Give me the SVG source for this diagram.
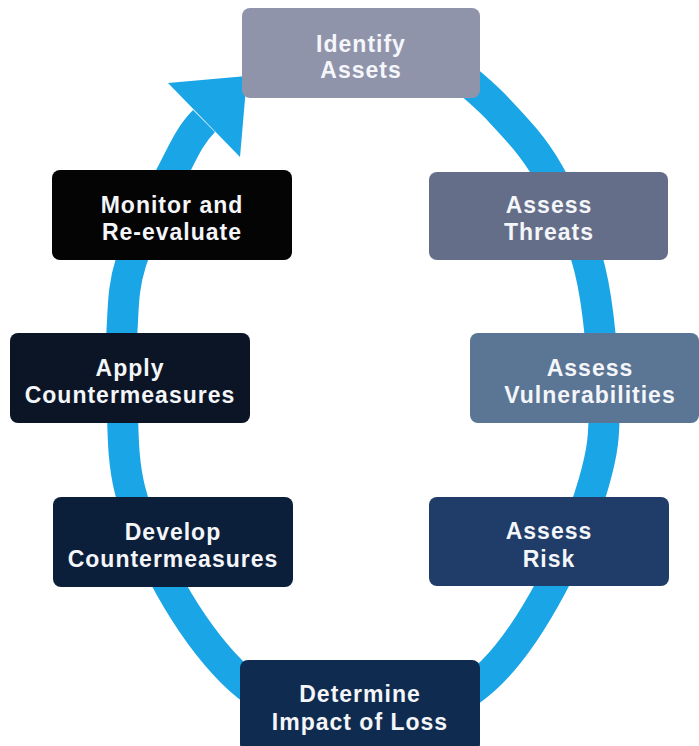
<svg xmlns="http://www.w3.org/2000/svg" width="699" height="746" viewBox="0 0 699 746">
<style>
.box{stroke:none}
.lbl{font-family:"Liberation Sans",Arial,sans-serif;font-weight:bold;font-size:23px;fill:#f4f6fa;text-anchor:middle;letter-spacing:1px}
.loop{fill:none;stroke:#1aa5e6;stroke-width:31}
</style>
<rect width="699" height="746" fill="#ffffff"/>
<g id="connectors">
<path class="loop" d="M 445 62 C 453.7 69.7 479.8 89.7 497 108 C 514.2 126.3 532.5 145 548 172 C 563.5 199 580.7 232 590 270 C 599.3 308 603.3 364.7 604 400 C 604.7 435.3 602.8 450.8 594 482 C 585.2 513.2 568 555.3 551 587 C 534 618.7 516 648 492 672 A 184 184 0 0 1 232 672 C 207.3 647.3 187 617.3 170 587 C 153 556.7 138 521.2 130 490 C 122 458.8 123.3 426.7 122 400 C 120.7 373.3 120.5 353 122 330 C 123.5 307 122.8 287.8 131 262 C 139.2 236.2 158.8 198.5 171 175 C 183.2 151.5 190 135 204 121"/>
<polygon points="168,83 247,76 240,157" fill="#1aa5e6"/>
</g>
<g id="identify-assets">
<rect class="box" x="242" y="8" width="238" height="90" rx="8" fill="#9094aa"/>
<text class="lbl" x="361" y="52">Identify</text>
<text class="lbl" x="361" y="78">Assets</text>
</g>
<g id="assess-threats">
<rect class="box" x="429" y="172" width="239" height="88" rx="8" fill="#656e89"/>
<text class="lbl" x="549" y="213">Assess</text>
<text class="lbl" x="549" y="240">Threats</text>
</g>
<g id="assess-vulnerabilities">
<rect class="box" x="470" y="333" width="229" height="90" rx="8" fill="#5b7595"/>
<text class="lbl" x="590" y="376">Assess</text>
<text class="lbl" x="590" y="403">Vulnerabilities</text>
</g>
<g id="assess-risk">
<rect class="box" x="429" y="497" width="240" height="89" rx="8" fill="#1f3d68"/>
<text class="lbl" x="549" y="539">Assess</text>
<text class="lbl" x="549" y="567">Risk</text>
</g>
<g id="determine-impact">
<rect class="box" x="240" y="660" width="240" height="92" rx="8" fill="#0f2c50"/>
<text class="lbl" x="360" y="702">Determine</text>
<text class="lbl" x="360" y="730">Impact of Loss</text>
</g>
<g id="develop-countermeasures">
<rect class="box" x="53" y="497" width="240" height="90" rx="8" fill="#0c1f3a"/>
<text class="lbl" x="173" y="540">Develop</text>
<text class="lbl" x="173" y="567">Countermeasures</text>
</g>
<g id="apply-countermeasures">
<rect class="box" x="10" y="333" width="240" height="90" rx="8" fill="#0b1526"/>
<text class="lbl" x="130" y="376">Apply</text>
<text class="lbl" x="130" y="403">Countermeasures</text>
</g>
<g id="monitor-reevaluate">
<rect class="box" x="52" y="170" width="240" height="90" rx="8" fill="#040404"/>
<text class="lbl" x="172" y="213">Monitor and</text>
<text class="lbl" x="172" y="240">Re-evaluate</text>
</g>
</svg>
